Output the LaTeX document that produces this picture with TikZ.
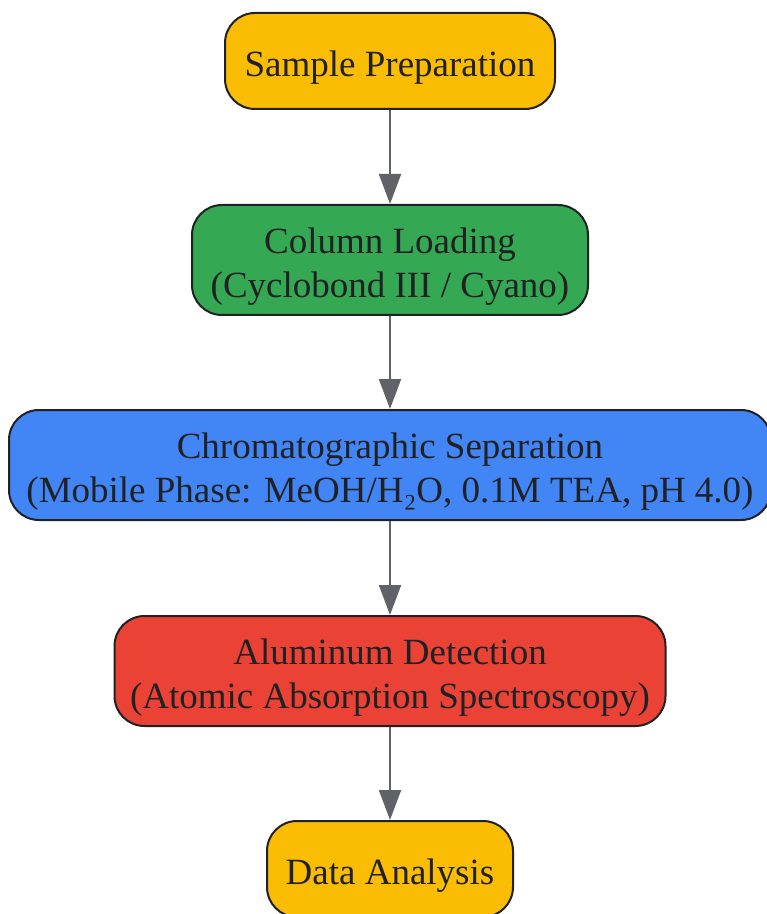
\documentclass[tikz,border=0pt]{standalone}
\usepackage{fontspec}
\setmainfont{Liberation Serif}
\usetikzlibrary{arrows.meta}

\definecolor{prepyellow}{HTML}{FBBC04}
\definecolor{loadgreen}{HTML}{34A853}
\definecolor{sepblue}{HTML}{4285F4}
\definecolor{detred}{HTML}{EA4335}
\definecolor{stageline}{HTML}{202124}
\definecolor{flowgray}{HTML}{5F6368}

\tikzset{
  stage/.style={draw=stageline, line width=1pt, rounded corners=15pt,
    inner sep=0pt},
  stagetext/.style={align=center, text=stageline, inner sep=0pt,
    yshift=-3.3pt, font=\fontsize{18.5}{22}\selectfont},
  flow/.style={draw=flowgray, line width=1pt,
    -{Triangle[width=11pt,length=15pt]}, fill=flowgray},
}

\begin{document}
\begin{tikzpicture}[x=0.5pt,y=-0.5pt]
      \useasboundingbox (0,0) rectangle (766,914);
      % Stages
      \node[stage, fill=prepyellow, minimum width=165pt, minimum height=48pt,
        label={[stagetext]center:{Sample Preparation}}]
        (prep) at (390,61) {};
      \node[stage, fill=loadgreen, minimum width=198pt, minimum height=55pt,
        label={[stagetext]center:{Column Loading\\(Cyclobond III / Cyano)}}]
        (load) at (390,260) {};
      \node[stage, fill=sepblue, minimum width=381pt, minimum height=55pt,
        label={[stagetext]center:{Chromatographic Separation\\(Mobile Phase: MeOH/H₂O, 0.1M TEA, pH 4.0)}}]
        (sep) at (390,465) {};
      \node[stage, fill=detred, minimum width=275.5pt, minimum height=55pt,
        label={[stagetext]center:{Aluminum Detection\\(Atomic Absorption Spectroscopy)}}]
        (det) at (390,671) {};
      \node[stage, fill=prepyellow, minimum width=123pt, minimum height=48pt,
        label={[stagetext]center:{Data Analysis}}]
        (data) at (390,869) {};
      % Arrows
      \draw[flow] (prep) -- (load);
      \draw[flow] (load) -- (sep);
      \draw[flow] (sep) -- (det);
      \draw[flow] (det) -- (data);
\end{tikzpicture}
\end{document}
